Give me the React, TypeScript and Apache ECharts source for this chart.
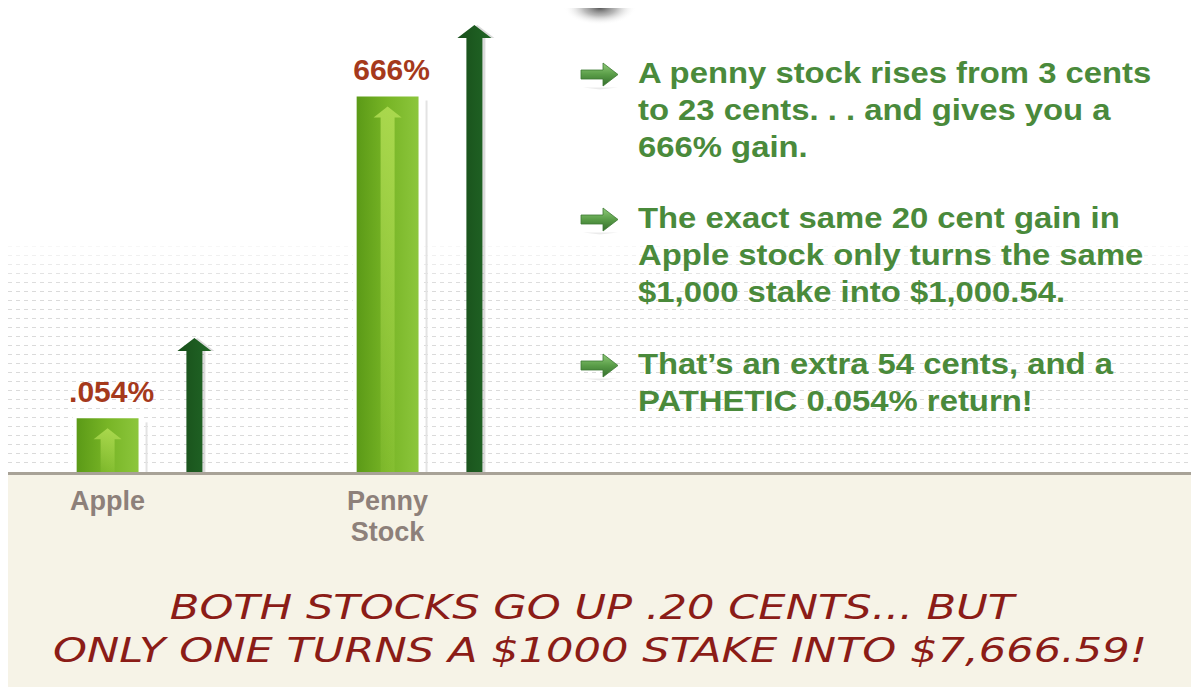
import React, { useEffect, useRef } from "react";
import * as echarts from "echarts";

// ---- data ----
const categories = ["Apple", "Penny\nStock"];
const gainLabels = [".054%", "666%"];
// relative heights (0–100 of plot height) as drawn in the picture
const barHeights = [12, 84];
const arrowHeights = [30, 100];
const bulletParagraphs = [
  ["A penny stock rises from 3 cents", "to 23 cents. . . and gives you a", "666% gain."],
  ["The exact same 20 cent gain in", "Apple stock only turns the same", "$1,000 stake into $1,000.54."],
  ["That\u2019s an extra 54 cents, and a", "PATHETIC 0.054% return!"],
];
const footerLines = [
  "BOTH STOCKS GO UP .20 CENTS... BUT",
  "ONLY ONE TURNS A $1000 STAKE INTO $7,666.59!",
];

const W = 1191;
const H = 688;
const BAR_OFF = 0.155; // fraction of band width from category centre
const BAR_W = 0.221;

function buildOption() {
  const graphics: any[] = [];
  // cream footer + baseline
  graphics.push({ type: "rect", z: 0, shape: { x: 8, y: 475, width: W - 8, height: 212 }, style: { fill: "#f6f3e7" } });
  graphics.push({ type: "rect", z: 0, shape: { x: 8, y: 472, width: W - 8, height: 3 }, style: { fill: "#a8a297" } });
  // dotted background lines
  for (let k = 0; k < 25; k++) {
    const y = 246 + 9 * k + 0.5;
    const op = k < 5 ? 0.2 + k * 0.16 : 0.9;
    graphics.push({
      type: "line", z: 0,
      shape: { x1: 8, y1: y, x2: W, y2: y },
      style: { stroke: "#d6d6d6", lineWidth: 1, lineDash: [4, 4], opacity: op },
    });
  }
  // top smudge (blurred shadow, cut at the top)
  graphics.push({
    type: "ellipse", z: 0,
    shape: { cx: 600, cy: 8, rx: 36, ry: 17 },
    style: {
      fill: new echarts.graphic.RadialGradient(0.5, 0.5, 0.5, [
        { offset: 0, color: "rgba(70,70,70,0.9)" },
        { offset: 0.45, color: "rgba(130,130,130,0.55)" },
        { offset: 1, color: "rgba(255,255,255,0)" },
      ]),
    },
  });
  graphics.push({ type: "rect", z: 1, shape: { x: 555, y: 0, width: 90, height: 8 }, style: { fill: "#ffffff" } });
  // bullets + text
  const starts = [73, 218, 364];
  bulletParagraphs.forEach((lines, p) => {
    const y0 = starts[p];
    const cy = y0 + 1.5;
    graphics.push({
      type: "polygon", z: 5,
      shape: { points: [[583, cy + 13], [618, cy + 13], [600, cy + 15]] },
      style: { fill: "rgba(0,0,0,0.08)" },
    });
    graphics.push({
      type: "polygon", z: 6,
      shape: {
        points: [
          [581, cy - 4.5], [603, cy - 4.5], [603, cy - 11.5], [618, cy],
          [603, cy + 11.5], [603, cy + 4.5], [581, cy + 4.5],
        ],
      },
      style: {
        fill: new echarts.graphic.LinearGradient(0, 0, 0, 1, [
          { offset: 0, color: "#8fcb78" },
          { offset: 0.5, color: "#5a9d48" },
          { offset: 1, color: "#336e2b" },
        ]),
        stroke: "#3e7a34", lineWidth: 0.8,
      },
    });
    lines.forEach((t, i) => {
      graphics.push({
        type: "text", z: 10,
        x: 638, y: y0 + i * 37, scaleX: 1.095,
        style: {
          text: t, x: 0, y: 0,
          fill: "#4a8a3b",
          font: 'bold 30px "Liberation Sans", Arial, sans-serif',
          align: "left", textAlign: "left",
          verticalAlign: "middle", textVerticalAlign: "middle",
        },
      });
    });
  });
  // footer text
  const footerPos = [[592, 607], [600, 650]];
  footerLines.forEach((t, i) => {
    graphics.push({
      type: "text", z: 10,
      x: footerPos[i][0], y: footerPos[i][1], scaleX: 1.27,
      style: {
        text: t, x: 0, y: 0,
        fill: "#8b1c17",
        font: 'italic 34px "DejaVu Sans", sans-serif',
        align: "center", textAlign: "center",
        verticalAlign: "middle", textVerticalAlign: "middle",
      },
    });
  });

  return {
    animation: false,
    backgroundColor: "#ffffff",
    grid: { left: 11, right: W - 571, top: 25, bottom: H - 472, containLabel: false },
    xAxis: {
      type: "category",
      data: categories,
      axisLine: { show: false },
      axisTick: { show: false },
      splitLine: { show: false },
      axisLabel: {
        color: "#8d807a",
        fontFamily: '"Liberation Sans", Arial, sans-serif',
        fontWeight: "bold",
        fontSize: 27,
        lineHeight: 31,
        margin: 13,
        padding: [0, 87, 0, 0],
      },
    },
    yAxis: { type: "value", min: 0, max: 100, show: false, splitLine: { show: false } },
    graphic: { elements: graphics },
    series: [
      {
        type: "custom",
        name: "gain",
        z: 3,
        data: barHeights.map((v, i) => [i, v]),
        renderItem: (params: any, api: any) => {
          const idx = params.dataIndex;
          const cat = api.value(0);
          const top = api.coord([cat, api.value(1)]);
          const base = api.coord([cat, 0]);
          const band = api.size([1, 0])[0];
          const w = band * BAR_W;
          const cx = top[0] - band * BAR_OFF;
          const x0 = cx - w / 2;
          const h = base[1] - top[1];
          const t = top[1];
          return {
            type: "group",
            children: [
              { type: "rect", shape: { x: x0 + w + 7, y: t + 4, width: 2, height: h - 4 }, style: { fill: "#e3e3e3" } },
              { type: "rect", shape: { x: x0 - 4, y: t - 2, width: w + 8, height: h + 2 }, style: { fill: "#ffffff" } },
              {
                type: "rect",
                shape: { x: x0, y: t, width: w, height: h },
                style: {
                  fill: new echarts.graphic.LinearGradient(0, 0, 1, 0, [
                    { offset: 0, color: "#5b9a17" },
                    { offset: 0.5, color: "#78b526" },
                    { offset: 1, color: "#8cc63c" },
                  ]),
                },
              },
              {
                type: "polygon",
                shape: {
                  points: [
                    [cx, t + 10], [cx + 14, t + 21], [cx + 7, t + 21], [cx + 7, base[1]],
                    [cx - 7, base[1]], [cx - 7, t + 21], [cx - 14, t + 21],
                  ],
                },
                style: {
                  fill: new echarts.graphic.LinearGradient(0, 0, 0, 1, [
                    { offset: 0, color: "rgba(178,222,84,0.85)" },
                    { offset: 1, color: "rgba(178,222,84,0.15)" },
                  ]),
                },
              },
              {
                type: "text",
                style: {
                  text: gainLabels[idx], x: cx + 4, y: t - 12,
                  fill: "#a5391c",
                  font: 'bold 30px "Liberation Sans", Arial, sans-serif',
                  align: "center", textAlign: "center",
                  verticalAlign: "bottom", textVerticalAlign: "bottom",
                },
              },
            ],
          };
        },
      },
      {
        type: "custom",
        name: "arrow",
        z: 3,
        data: arrowHeights.map((v, i) => [i, v]),
        renderItem: (params: any, api: any) => {
          const cat = api.value(0);
          const top = api.coord([cat, api.value(1)]);
          const base = api.coord([cat, 0]);
          const band = api.size([1, 0])[0];
          const cx = top[0] + band * BAR_OFF;
          const t = top[1];
          const b = base[1];
          const pts = (dx: number) => [
            [cx + dx, t], [cx + 17 + dx, t + 13], [cx + 8 + dx, t + 13], [cx + 8 + dx, b],
            [cx - 8 + dx, b], [cx - 8 + dx, t + 13], [cx - 17 + dx, t + 13],
          ];
          return {
            type: "group",
            children: [
              { type: "polygon", shape: { points: pts(3) }, style: { fill: "rgba(0,0,0,0.14)" } },
              {
                type: "polygon",
                shape: { points: pts(0) },
                style: {
                  fill: new echarts.graphic.LinearGradient(0, 0, 1, 0, [
                    { offset: 0, color: "#184f1a" },
                    { offset: 1, color: "#216626" },
                  ]),
                },
              },
            ],
          };
        },
      },
    ],
  };
}

export default function App() {
  const ref = useRef<HTMLDivElement>(null);
  useEffect(() => {
    if (!ref.current) return;
    const chart = echarts.init(ref.current, undefined, { renderer: "svg" });
    chart.setOption(buildOption() as any);
    return () => chart.dispose();
  }, []);
  return (
    <div
      ref={ref}
      style={{ position: "fixed", left: 0, top: 0, width: W, height: H, background: "#fff" }}
    />
  );
}
